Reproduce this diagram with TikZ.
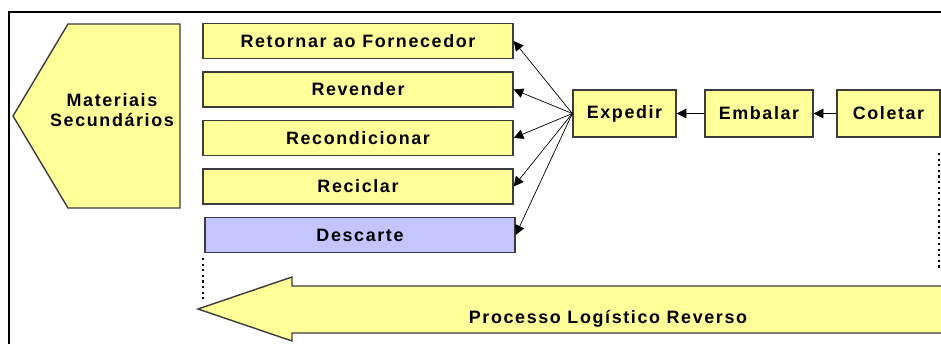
\documentclass[tikz,border=0pt]{standalone}
\usepackage{fontspec}
\newfontfamily\diagfont{Liberation Sans}[LetterSpace=9]
\usetikzlibrary{calc,arrows.meta}
\definecolor{paleyellow}{HTML}{FFFF99}
\definecolor{palelilac}{HTML}{C4C4FF}
\definecolor{edgegray}{HTML}{3C3C3C}

\begin{document}
\begin{tikzpicture}[x=0.02cm,y=-0.02cm,>={Triangle[length=5.5pt,width=5.5pt]},thin,
    box node/.style={draw=edgegray,line width=0.8pt,fill=paleyellow,minimum width=6.2cm,minimum height=0.7cm,inner sep=0pt,font=\diagfont\bfseries\fontsize{10.2}{12}\selectfont},
    proc node/.style={box node,minimum width=2.06cm,minimum height=0.94cm}]
    \useasboundingbox (0,0) rectangle (941,344);
    \draw[line width=1.2pt] (9,12) rectangle (960,360);

    % materiais secundarios
    \draw[draw=edgegray,line width=0.8pt,fill=paleyellow] (13,116) -- (68,24) -- (180,24) -- (180,208) -- (68,208) -- cycle;
    \node (0) at (112,110) [align=center,font=\diagfont\bfseries\fontsize{10.2}{11.3}\selectfont]{Materiais\\Secundários};

    \node (1) [box node] at (358,41){Retornar ao Fornecedor};
    \node (2) [box node] at ($(1)+(0,48.5)$){Revender};
    \node (3) [box node] at ($(1)+(0,97)$){Recondicionar};
    \node (4) [box node] at ($(1)+(0,145.5)$){Reciclar};
    \node (5) [box node,fill=palelilac] at ($(1)+(2,194)$){Descarte};

    \node (6) [proc node] at (624.5,113.5){Expedir};
    \node (7) [proc node,minimum width=2.16cm] at ($(6)+(134.5,0)$){Embalar};
    \node (8) [proc node] at ($(7)+(129.5,0)$){Coletar};

    % processo logistico reverso
    \draw[draw=edgegray,line width=0.8pt,fill=paleyellow] (198,309) -- (292,277) -- (292,286) -- (960,286) -- (960,333) -- (292,333) -- (292,341) -- cycle;
    \node (9) at (608,319) [font=\diagfont\bfseries\fontsize{10.2}{12}\selectfont]{Processo Logístico Reverso};

    \draw[dotted,line width=1.2pt] (939,153) -- (939,270);
    \draw[dotted,line width=1.2pt] (203,258) -- (203,302);

    \path[->]
        (6.west) edge (1.east)
        (6.west) edge (2.east)
        (6.west) edge (3.east)
        (6.west) edge (4.east)
        (6.west) edge (5.east)

        (7) edge (6)
        (8) edge (7)
    ;
\end{tikzpicture}
\end{document}
